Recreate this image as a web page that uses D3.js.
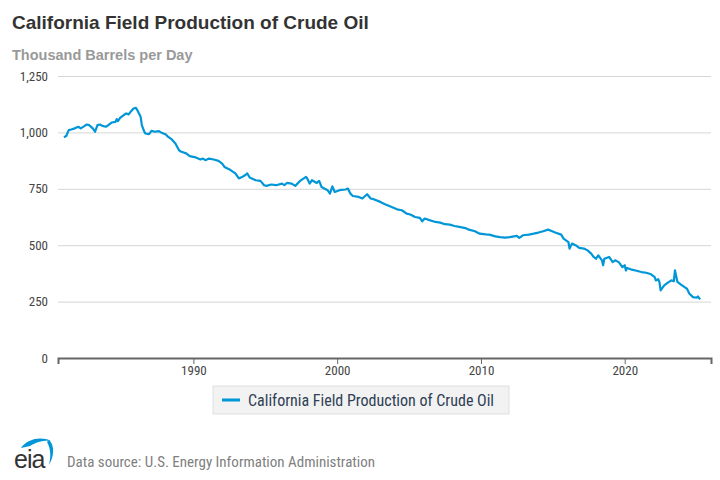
<!DOCTYPE html>
<html>
<head>
<meta charset="utf-8">
<script src="https://cdn.jsdelivr.net/npm/d3@7"></script>
<style>
  body { margin: 0; background: #fff; }
  svg { display: block; }
</style>
</head>
<body>
<div id="chart"></div>
<script>
// monthly readings
const months = [
  "1981-01","1981-03","1981-05","1981-07","1981-10","1982-01","1982-03","1982-06","1982-08","1982-10",
  "1983-01","1983-03","1983-05","1983-07","1983-09","1983-12","1984-02","1984-05","1984-08","1984-09",
  "1984-10","1984-12","1985-03","1985-05","1985-07","1985-09","1985-11","1986-01","1986-02","1986-05",
  "1986-06","1986-08","1986-09","1986-12","1987-02","1987-05","1987-08","1987-10","1988-02","1988-04",
  "1988-07","1988-10","1989-01","1989-03","1989-07","1989-10","1990-03","1990-07","1990-09","1990-11",
  "1991-02","1991-06","1991-10","1992-01","1992-03","1992-08","1992-12","1993-03","1993-06","1993-08",
  "1993-10","1993-12","1994-05","1994-09","1994-12","1995-02","1995-06","1995-10","1996-03","1996-05",
  "1996-07","1996-11","1997-02","1997-06","1997-11","1997-12","1998-02","1998-04","1998-08","1998-10",
  "1998-12","1999-05","1999-07","1999-09","1999-11","2000-03","2000-08","2000-10","2000-12","2001-02",
  "2001-07","2001-10","2002-02","2002-05","2002-08","2003-01","2003-05","2003-09","2004-03","2004-07",
  "2004-11","2005-02","2005-06","2005-10","2005-12","2006-02","2006-06","2006-11","2007-03","2007-07",
  "2007-11","2008-03","2008-07","2008-12","2009-03","2009-08","2009-12","2010-05","2010-08","2011-01",
  "2011-05","2011-09","2012-01","2012-07","2012-09","2012-12","2013-05","2013-09","2014-01","2014-05",
  "2014-09","2014-12","2015-03","2015-08","2015-10","2016-02","2016-03","2016-05","2016-08","2016-11",
  "2017-03","2017-06","2017-09","2017-11","2018-01","2018-03","2018-06","2018-07","2018-08","2018-12",
  "2019-03","2019-05","2019-08","2019-09","2019-11","2020-01","2020-02","2020-03","2020-06","2020-10",
  "2021-03","2021-07","2021-11","2022-02","2022-03","2022-05","2022-06","2022-07","2022-10","2023-01",
  "2023-04","2023-06","2023-07","2023-09","2023-12","2024-03","2024-05","2024-07","2024-10","2025-01",
  "2025-02","2025-04"
];
const production = [
  978,985,1010,1013,1018,1025,1018,1028,1035,1032,
  1018,1003,1032,1035,1029,1025,1032,1044,1047,1059,
  1050,1065,1077,1084,1080,1094,1106,1109,1100,1069,
  1032,1003,995,992,1007,1003,1006,1000,991,980,
  969,951,921,914,907,895,889,880,884,877,
  884,880,874,862,847,833,818,796,803,810,
  818,800,788,785,766,763,769,766,773,766,
  776,773,763,785,803,796,773,788,776,785,
  758,744,729,761,736,744,747,751,729,718,
  714,707,726,707,703,692,682,673,659,655,
  640,636,625,621,606,618,611,603,600,593,
  591,585,581,576,569,562,551,548,547,539,
  536,534,536,541,532,544,547,551,556,562,
  569,563,556,547,529,514,485,507,500,488,
  485,477,463,448,440,455,433,411,440,448,
  425,433,425,418,403,411,388,399,393,388,
  381,378,371,359,344,349,337,300,322,334,
  344,340,388,337,325,314,307,285,270,267,
  273,260
];
const yTicks = [0, 250, 500, 750, 1000, 1250];
const xTickYears = [1990, 2000, 2010, 2020];

const seriesName = "California Field Production of Crude Oil";
const parseMonth = d3.timeParse("%Y-%m");
const data = months.map((m, i) => ({ date: parseMonth(m), value: production[i] }));

const width = 720, height = 480;
const margin = { left: 58, right: 9, top: 76, bottom: 122 };
const narrow = "'Liberation Sans Narrow', 'Roboto Condensed', 'Liberation Sans', Arial, sans-serif";
const sans = "'Liberation Sans', Arial, sans-serif";

const svg = d3.select("#chart").append("svg")
  .attr("width", width)
  .attr("height", height);

const x = d3.scaleTime()
  .domain([new Date(1980, 7, 1), new Date(2026, 0, 1)])
  .range([margin.left, width - margin.right]);

const y = d3.scaleLinear()
  .domain([0, 1250])
  .range([height - margin.bottom, margin.top]);

// title and unit
svg.append("text")
  .attr("x", 12).attr("y", 29)
  .style("font-family", sans)
  .style("font-size", "19px")
  .style("font-weight", "bold")
  .style("fill", "#333")
  .text(seriesName);

svg.append("text")
  .attr("x", 12).attr("y", 60)
  .style("font-family", sans)
  .style("font-size", "14.5px")
  .style("font-weight", "bold")
  .style("fill", "#999")
  .text("Thousand Barrels per Day");

// gridlines + y labels
const yAxis = d3.axisLeft(y)
  .tickValues(yTicks)
  .tickSize(-(width - margin.left - margin.right))
  .tickPadding(10)
  .tickFormat(d3.format(","));

const gy = svg.append("g")
  .attr("transform", `translate(${margin.left},0)`)
  .call(yAxis);
gy.select(".domain").remove();
gy.selectAll(".tick line").attr("stroke", "#d6d6d6").attr("stroke-width", 1);
gy.selectAll(".tick text")
  .style("font-family", narrow)
  .style("font-size", "13px")
  .style("fill", "#444");

// x axis
const xAxis = d3.axisBottom(x)
  .tickValues(xTickYears.map(yr => new Date(yr, 0, 1)))
  .tickSize(6)
  .tickPadding(2)
  .tickFormat(d3.timeFormat("%Y"));

const gx = svg.append("g")
  .attr("transform", `translate(0,${y(0)})`)
  .call(xAxis);
gx.select(".domain").attr("stroke", "#666").attr("stroke-width", 2);
gx.selectAll(".tick line").attr("stroke", "#666");
gx.selectAll(".tick text")
  .style("font-family", narrow)
  .style("font-size", "13px")
  .style("fill", "#444");

// the series
const line = d3.line()
  .x(d => x(d.date))
  .y(d => y(d.value));

svg.append("path")
  .datum(data)
  .attr("d", line)
  .attr("fill", "none")
  .attr("stroke", "#0096d7")
  .attr("stroke-width", 2.2)
  .attr("stroke-linejoin", "round");

// legend
const legend = svg.append("g").attr("transform", "translate(213,386)");
legend.append("rect")
  .attr("width", 296).attr("height", 28)
  .attr("fill", "#f2f2f2")
  .attr("stroke", "#e0e0e0");
legend.append("line")
  .attr("x1", 9).attr("x2", 27)
  .attr("y1", 14).attr("y2", 14)
  .attr("stroke", "#0096d7")
  .attr("stroke-width", 3);
legend.append("text")
  .attr("x", 35).attr("y", 20)
  .style("font-family", narrow)
  .style("font-size", "16px")
  .style("fill", "#2f3f55")
  .text(seriesName);

// footer: eia mark + source
const logo = svg.append("g").attr("transform", "translate(13,437)");
logo.append("path")
  .attr("d", "M8,11 C14,2 28,-1 38,4 C33,3 24,4 17,9 Z")
  .attr("fill", "#0096d7");
logo.append("path")
  .attr("d", "M36,3 C42,8 41,20 36,28 C38,20 38,12 34,5 Z")
  .attr("fill", "#0096d7");
logo.append("text")
  .attr("x", 1).attr("y", 31)
  .style("font-family", sans)
  .style("font-size", "25px")
  .style("fill", "#333")
  .style("letter-spacing", "-1px")
  .text("eia");

svg.append("text")
  .attr("x", 67).attr("y", 467)
  .style("font-family", narrow)
  .style("font-size", "15px")
  .style("fill", "#808080")
  .text("Data source: U.S. Energy Information Administration");
</script>
</body>
</html>
